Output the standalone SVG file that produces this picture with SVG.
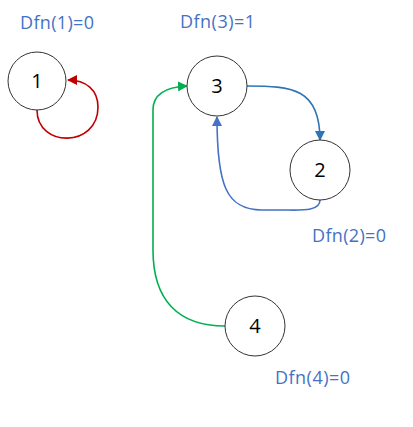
<svg xmlns="http://www.w3.org/2000/svg" width="413" height="427" viewBox="0 0 413 427">
<style>
.node circle{fill:#fff;stroke:#333;stroke-width:1}
.node text{font-family:"Open Sans","Liberation Sans",Arial,sans-serif;font-size:20px;fill:#000;text-anchor:middle}
.lbl{font-family:"Open Sans","Liberation Sans",sans-serif;font-size:18px;fill:#4472C4}
.edge{fill:none;stroke-width:1.6}
</style>
<defs>
<marker id="ar" viewBox="0 0 10 10" refX="9" refY="5" markerWidth="10" markerHeight="10" markerUnits="userSpaceOnUse" orient="auto"><path d="M0,0 L10,5 L0,10 z" fill="#C00000"/></marker>
<marker id="ab" viewBox="0 0 10 10" refX="9" refY="5" markerWidth="10" markerHeight="10" markerUnits="userSpaceOnUse" orient="auto"><path d="M0,0 L10,5 L0,10 z" fill="#2E75B6"/></marker>
<marker id="ab2" viewBox="0 0 10 10" refX="9" refY="5" markerWidth="10" markerHeight="10" markerUnits="userSpaceOnUse" orient="auto"><path d="M0,0 L10,5 L0,10 z" fill="#4472C4"/></marker>
<marker id="ag" viewBox="0 0 10 10" refX="9" refY="5" markerWidth="10" markerHeight="10" markerUnits="userSpaceOnUse" orient="auto"><path d="M0,0 L10,5 L0,10 z" fill="#00B050"/></marker>
</defs>
<g id="connectors">
<path class="edge" stroke="#C00000" d="M37,110 C37,148 98,148 98,107 C98,90 86,80 68,80" marker-end="url(#ar)"/>
<path class="edge" stroke="#2E75B6" d="M247,86 C292,86 320,88 320,140" marker-end="url(#ab)"/>
<path class="edge" stroke="#4472C4" d="M320,200 C320,212 300,210 282,210 L262,210 C226,210 217,185 217,117" marker-end="url(#ab2)"/>
<path class="edge" stroke="#00B050" d="M225,326 C178,326 153,300 153,250 L153,110 C153,95 165,87 187,86" marker-end="url(#ag)"/>
</g>
<g id="node1" class="node"><circle cx="37" cy="81" r="29"/><text x="37" y="88">1</text></g>
<g id="node3" class="node"><circle cx="217" cy="86" r="30"/><text x="217" y="93">3</text></g>
<g id="node2" class="node"><circle cx="320" cy="170" r="30"/><text x="320" y="177">2</text></g>
<g id="node4" class="node"><circle cx="255" cy="326" r="30"/><text x="255" y="333">4</text></g>
<g id="labels">
<text class="lbl" x="20" y="29" textLength="74">Dfn(1)=0</text>
<text class="lbl" x="180" y="28" textLength="75">Dfn(3)=1</text>
<text class="lbl" x="312" y="242" textLength="74">Dfn(2)=0</text>
<text class="lbl" x="275" y="384" textLength="75">Dfn(4)=0</text>
</g>
</svg>
